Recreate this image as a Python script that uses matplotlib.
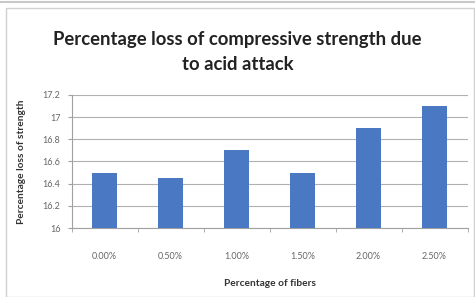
import matplotlib.pyplot as plt
import matplotlib.patches as patches
import numpy as np

fibers = ["0.00%", "0.50%", "1.00%", "1.50%", "2.00%", "2.50%"]
loss = [16.5, 16.45, 16.7, 16.5, 16.9, 17.1]
yticks = [16, 16.2, 16.4, 16.6, 16.8, 17, 17.2]
ytick_labels = ["16", "16.2", "16.4", "16.6", "16.8", "17", "17.2"]

fig = plt.figure(figsize=(4.75, 2.97), dpi=100)
fig.patch.set_facecolor("white")

# outer chart frame
fig.patches.append(patches.Rectangle((6 / 475, 0.0), 468 / 475, 1 - 8 / 297,
                                     transform=fig.transFigure, fill=False,
                                     edgecolor="#d0d0d0", linewidth=1.0))
fig.add_artist(plt.Line2D([0, 1], [1 - 2 / 297, 1 - 2 / 297], transform=fig.transFigure,
                          color="#c8c8c8", linewidth=1.5))

ax = fig.add_axes([71.5 / 475, 1 - 228 / 297, 396 / 475, 133 / 297])
x = np.arange(len(fibers))
ax.bar(x, loss, width=0.38, color="#4a78c2", zorder=3)

ax.set_xlim(-0.5, len(fibers) - 0.5)
ax.set_ylim(16, 17.2)
ax.set_yticks(yticks)
ax.set_yticklabels(ytick_labels)
ax.set_xticks(x)
ax.set_xticklabels(fibers)
ax.set_xticks(np.arange(-0.5, len(fibers)), minor=True)

ax.grid(axis="y", color="#b0b0b0", linewidth=0.8, zorder=0)
for s in ["top", "right"]:
    ax.spines[s].set_visible(False)
ax.spines["left"].set_color("#a0a0a0")
ax.spines["bottom"].set_color("#a0a0a0")

narrow = ["Lato", "DejaVu Sans"]
ax.tick_params(axis="y", labelsize=6.5, colors="#a0a0a0", labelcolor="#666666", length=3, pad=5)
ax.tick_params(axis="x", which="major", length=0, labelsize=6.5, labelcolor="#666666", pad=17)
ax.tick_params(axis="x", which="minor", length=3, color="#a0a0a0")
for lab in ax.get_xticklabels() + ax.get_yticklabels():
    lab.set_family(narrow)

ax.set_xlabel("Percentage of fibers", fontsize=7.3, fontweight="bold", color="#333333",
              labelpad=13, family=narrow)
ax.set_ylabel("Percentage loss of strength", fontsize=7.3, fontweight="bold", color="#333333",
              labelpad=12, family=narrow)

fig.text(0.5, 1 - 40 / 297, "Percentage loss of compressive strength due",
         ha="center", va="center", fontsize=13.3, fontweight="bold", color="#222222", family=narrow)
fig.text(0.5, 1 - 64 / 297, "to acid attack",
         ha="center", va="center", fontsize=13.3, fontweight="bold", color="#222222", family=narrow)

plt.savefig("out.png", dpi=100)
